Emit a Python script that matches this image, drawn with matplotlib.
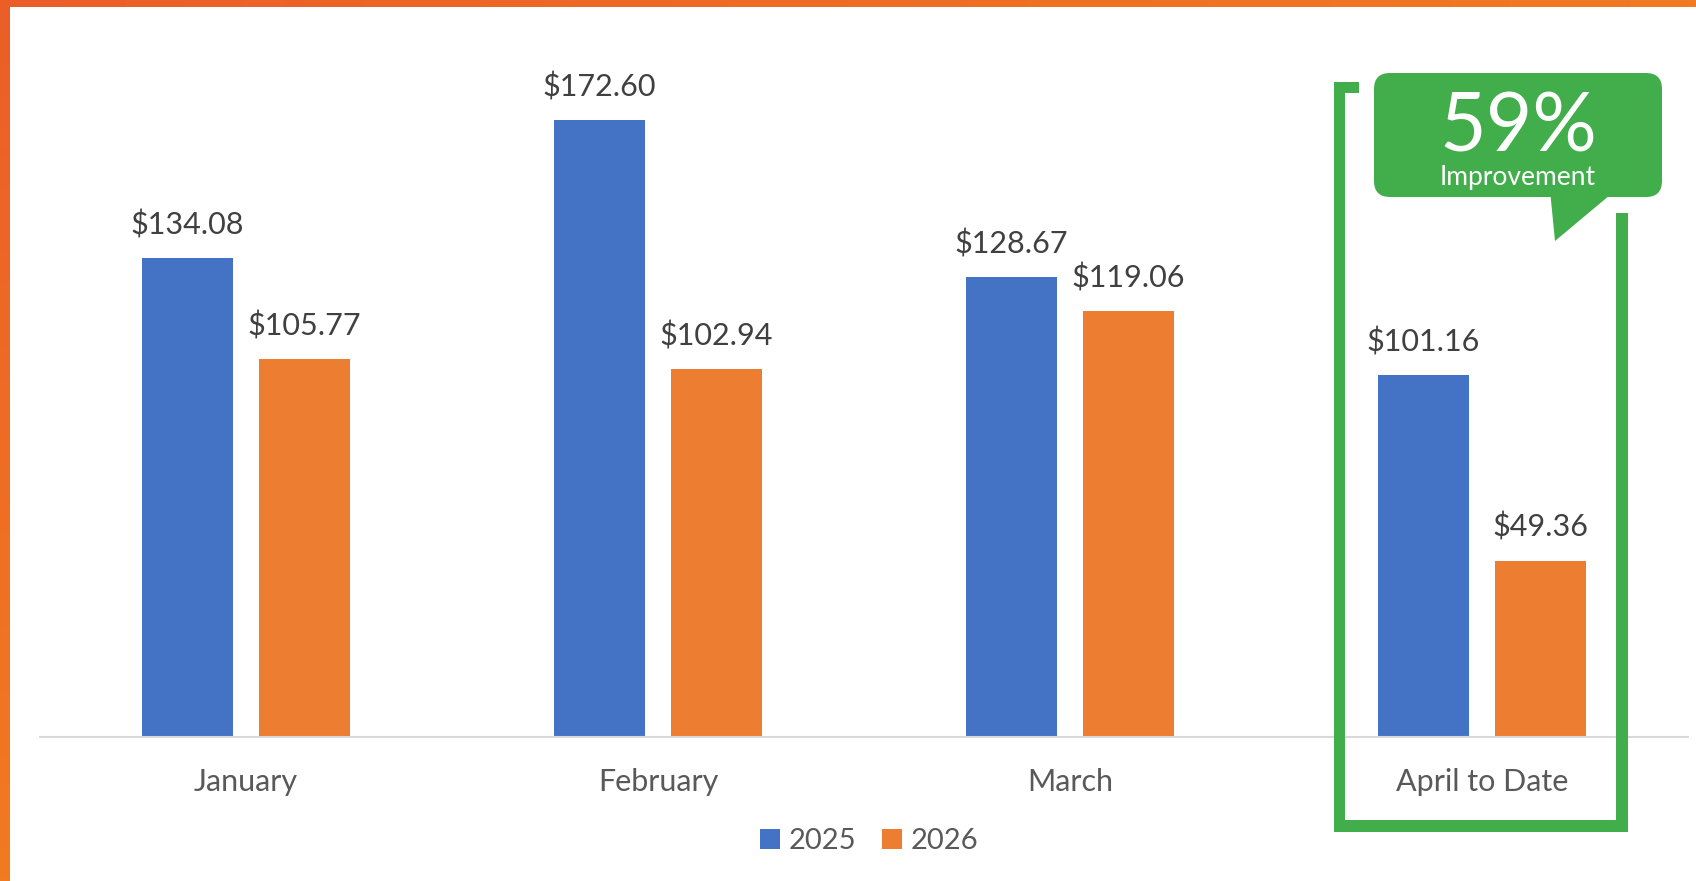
import matplotlib
matplotlib.use("Agg")
import matplotlib.pyplot as plt
import numpy as np
from matplotlib.patches import Rectangle, FancyBboxPatch, Polygon
from matplotlib.colors import LinearSegmentedColormap

plt.rcParams["font.family"] = ["Lato", "DejaVu Sans"]

categories = ["January", "February", "March", "April to Date"]
cost_2025 = [134.08, 172.60, 128.67, 101.16]
cost_2026 = [105.77, 102.94, 119.06, 49.36]
series_names = ["2025", "2026"]
callout_big = "59%"
callout_small = "Improvement"

BLUE = "#4472C4"
ORANGE = "#ED7D31"
GREEN = "#41AE4B"
W, H = 1696, 881

fig = plt.figure(figsize=(W / 100, H / 100), dpi=100)
ax = fig.add_axes([40 / W, 144 / H, 1648 / W, 715 / H])

x = np.arange(len(categories))
bw = 0.223
off = 0.142
b1 = ax.bar(x - off, cost_2025, bw, color=BLUE, label=series_names[0])
b2 = ax.bar(x + off, cost_2026, bw, color=ORANGE, label=series_names[1])

for bars in (b1, b2):
    for r in bars:
        ax.annotate(f"${r.get_height():.2f}", (r.get_x() + r.get_width() / 2, r.get_height()),
                    xytext=(0, 17), textcoords="offset points", ha="center", va="baseline",
                    fontsize=22, color="#404040")

ax.set_xlim(-0.5, 3.5)
ax.set_ylim(0, 200)
ax.set_xticks(x)
ax.set_xticklabels(categories, fontsize=22, color="#595959")
ax.tick_params(axis="x", length=0, pad=22)
ax.set_yticks([])
for s in ["top", "right", "left"]:
    ax.spines[s].set_visible(False)
ax.spines["bottom"].set_color("#D9D9D9")
ax.spines["bottom"].set_linewidth(1.5)

leg = fig.legend(loc="center", bbox_to_anchor=(869 / W, 1 - 841 / H), ncol=2, frameon=False,
                 fontsize=21, handlelength=0.69, handleheight=0.69, handletextpad=0.28,
                 columnspacing=0.9, borderaxespad=0)
for t in leg.get_texts():
    t.set_color("#595959")

# overlay in pixel coordinates for the frame and the callout
ov = fig.add_axes([0, 0, 1, 1], zorder=5)
ov.axis("off")
ov.patch.set_alpha(0)

cmap = LinearSegmentedColormap.from_list("fr", ["#EB5E28", "#F27A22"])
ov.imshow(np.linspace(0, 1, 256)[None, :], cmap=cmap, aspect="auto", extent=(0, W, 7, 0))
ov.imshow(np.linspace(0, 1, 256)[:, None], cmap=cmap, aspect="auto", extent=(0, 10, H, 0))
ov.set_xlim(0, W)
ov.set_ylim(H, 0)

# bracket around April
for rx, ry, rw, rh in [(1334, 82, 11, 750), (1334, 82, 25, 11), (1334, 820, 294, 12), (1616, 213, 12, 619)]:
    ov.add_patch(Rectangle((rx, ry), rw, rh, color=GREEN, lw=0))

ov.add_patch(FancyBboxPatch((1374, 73), 288, 124, boxstyle="round,pad=0,rounding_size=16",
                            color=GREEN, lw=0))
ov.add_patch(Polygon([(1550, 190), (1616, 190), (1555, 241)], closed=True, color=GREEN, lw=0))
ov.text(1518, 151, callout_big, ha="center", va="baseline", fontsize=58, color="white")
ov.text(1518, 185, callout_small, ha="center", va="baseline", fontsize=19, color="white")

fig.savefig("out.png", dpi=100)
